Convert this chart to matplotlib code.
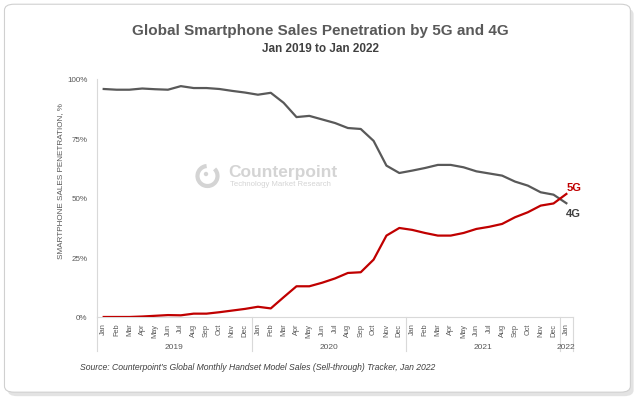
import matplotlib.pyplot as plt
from matplotlib.patches import FancyBboxPatch, Arc, Circle
from matplotlib.transforms import blended_transform_factory

plt.rcParams['font.family'] = ['Liberation Sans', 'DejaVu Sans']

months = ['Jan', 'Feb', 'Mar', 'Apr', 'May', 'Jun', 'Jul', 'Aug', 'Sep', 'Oct', 'Nov', 'Dec'] * 3 + ['Jan']
years = ['2019', '2020', '2021', '2022']

pen_4g = [95.8, 95.5, 95.5, 96.0, 95.7, 95.5, 97.0, 96.2, 96.2, 95.8, 95.0, 94.3,
          93.4, 94.2, 90.0, 84.0, 84.5, 83.0, 81.5, 79.4, 79.0, 74.0, 63.6, 60.5,
          61.5, 62.6, 63.9, 63.9, 62.9, 61.2, 60.3, 59.4, 56.9, 55.2, 52.4, 51.4,
          47.8]
pen_5g = [0.0, 0.0, 0.0, 0.2, 0.5, 0.8, 0.7, 1.4, 1.4, 2.0, 2.7, 3.4,
          4.3, 3.6, 8.3, 12.9, 12.9, 14.4, 16.2, 18.5, 18.8, 24.1, 34.2, 37.4,
          36.6, 35.3, 34.2, 34.2, 35.3, 37.0, 37.9, 39.1, 41.9, 44.0, 46.8, 47.7,
          51.7]

fig = plt.figure(figsize=(6.4, 4.02), dpi=100)

# card frame with shadow
shadow = FancyBboxPatch((0.012, 0.012), 0.978, 0.965, boxstyle='round,pad=0,rounding_size=0.015',
                        transform=fig.transFigure, facecolor='#c8c8c8', edgecolor='none', alpha=0.5, zorder=0)
card = FancyBboxPatch((0.007, 0.022), 0.978, 0.965, boxstyle='round,pad=0,rounding_size=0.015',
                      transform=fig.transFigure, facecolor='white', edgecolor='#d0d0d0', linewidth=0.8, zorder=1)
fig.patches.extend([shadow, card])

fig.text(0.5, 0.922, 'Global Smartphone Sales Penetration by 5G and 4G', ha='center', va='center',
         fontsize=11, fontweight='bold', color='#595959')
fig.text(0.5, 0.878, 'Jan 2019 to Jan 2022', ha='center', va='center',
         fontsize=8.5, fontweight='bold', color='#404040')

ax = fig.add_axes([0.152, 0.209, 0.743, 0.592])
ax.set_zorder(2)
ax.patch.set_alpha(0)

x = list(range(len(months)))
ax.plot(x, pen_4g, color='#595959', linewidth=1.6, zorder=3)
ax.plot(x, pen_5g, color='#c00000', linewidth=1.6, zorder=4)

ax.set_xlim(-0.5, len(months) - 0.5)
ax.set_ylim(0, 100)
ax.set_yticks([0, 25, 50, 75, 100])
ax.set_yticklabels(['0%', '25%', '50%', '75%', '100%'], fontsize=5.8, color='#595959')
ax.set_xticks(x)
ax.set_xticklabels(months, rotation=90, fontsize=5.3, color='#595959')
ax.tick_params(length=0, pad=4)
ax.tick_params(axis='y', pad=7)
for s in ['top', 'right']:
    ax.spines[s].set_visible(False)
ax.spines['left'].set_color('#d9d9d9')
ax.spines['bottom'].set_color('#d9d9d9')
ax.spines['left'].set_linewidth(0.8)
ax.spines['bottom'].set_linewidth(0.8)

fig.text(0.094, 0.55, 'SMARTPHONE SALES PENETRATION, %', rotation=90, ha='center', va='center',
         fontsize=5.9, color='#595959')

# year groups
tr = blended_transform_factory(ax.transData, ax.transAxes)
for b in [-0.5, 11.5, 23.5, 35.5, 36.5]:
    ax.plot([b, b], [0, -0.145], color='#d9d9d9', linewidth=0.8, transform=tr, clip_on=False)
for yr, c in zip(years, [5.5, 17.5, 29.5, 36]):
    ax.text(c, -0.122, yr, transform=tr, ha='center', va='center', fontsize=6, color='#595959')

# end labels
ax.text(len(months) - 1, pen_5g[-1] + 3, '5G', ha='left', va='center', fontsize=8,
        fontweight='bold', color='#c00000')
ax.text(len(months) - 1, pen_4g[-1] - 4, '4G', ha='left', va='center', fontsize=8,
        fontweight='bold', color='#404040')

# watermark
wm = '#d4d4d4'
ring = Arc((2.075, 2.25), 0.2, 0.2, theta1=95, theta2=405, transform=fig.dpi_scale_trans,
           edgecolor=wm, linewidth=3, zorder=1.5)
fig.patches.append(ring)
fig.patches.append(Circle((2.06, 2.27), 0.022, transform=fig.dpi_scale_trans, facecolor=wm,
                          edgecolor='none', zorder=1.5))
fig.text(0.357, 0.572, 'Counterpoint', fontsize=12.5, fontweight='bold', color=wm, va='center', zorder=1.5)
fig.text(0.359, 0.540, 'Technology Market Research', fontsize=5.6, color=wm, va='center', zorder=1.5)

fig.text(0.125, 0.085, "Source: Counterpoint\u2019s Global Monthly Handset Model Sales (Sell-through) Tracker, Jan 2022",
         fontsize=6.2, style='italic', color='#404040', va='center')

fig.savefig('out.png', dpi=100)
